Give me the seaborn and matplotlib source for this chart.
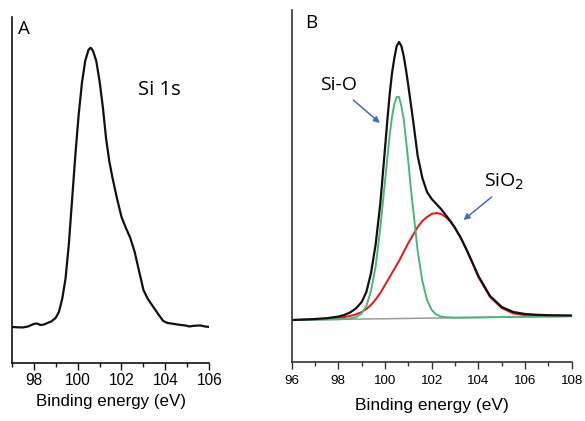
import matplotlib
matplotlib.use("Agg")
import matplotlib.pyplot as plt
from matplotlib.ticker import MultipleLocator
import pandas as pd
import seaborn as sns

# ---- Panel A: Si 1s survey spectrum ----
energy_a = [97.0, 97.25, 97.5, 97.75, 98.0, 98.15, 98.3, 98.45, 98.6, 98.8,
            99.0, 99.15, 99.3, 99.45, 99.6, 99.75, 99.9, 100.05, 100.2, 100.35,
            100.5, 100.6, 100.7, 100.85, 101.0, 101.15, 101.3, 101.45, 101.6, 101.8,
            102.0, 102.2, 102.4, 102.6, 102.8, 103.0, 103.2, 103.45, 103.7, 103.9,
            104.1, 104.4, 104.7, 104.9, 105.1, 105.3, 105.6, 105.8, 106.0]
intensity_a = [0.0, -0.3, -0.5, 0.5, 3.0, 3.5, 2.0, 2.3, 3.7, 5.5,
               9.0, 15.0, 28.0, 48.0, 82.0, 127.0, 172.0, 212.0, 244.0, 266.0,
               277.0, 279.0, 276.0, 266.0, 246.0, 220.0, 188.0, 165.0, 148.0, 128.0,
               110.0, 99.0, 89.0, 75.0, 56.0, 37.0, 28.0, 20.0, 12.0, 6.0,
               4.0, 3.0, 2.0, 1.5, 0.5, 1.2, 1.5, 0.5, 0.0]

# ---- Panel B: fitted envelope and components ----
energy_b = [96.0, 96.5, 97.0, 97.5, 98.0, 98.25, 98.5, 98.75, 99.0, 99.2,
            99.4, 99.6, 99.8, 100.0, 100.1, 100.2, 100.3, 100.4, 100.5, 100.6,
            100.7, 100.8, 100.9, 101.0, 101.1, 101.2, 101.4, 101.6, 101.8, 102.0,
            102.2, 102.4, 102.6, 102.8, 103.0, 103.25, 103.5, 103.75, 104.0, 104.5,
            105.0, 105.5, 106.0, 106.5, 107.0, 108.0]
envelope_b = [0.0, 0.4, 1.0, 1.8, 3.4, 5.0, 7.5, 11.5, 18.0, 28.0,
              47.0, 76.0, 117.0, 172.0, 200.0, 226.0, 247.0, 262.0, 274.0, 278.0,
              274.0, 264.0, 250.0, 234.0, 217.0, 200.0, 164.0, 142.0, 128.0, 121.0,
              116.0, 111.0, 105.0, 99.0, 92.0, 82.0, 70.0, 57.0, 44.0, 24.0,
              13.0, 8.0, 6.0, 5.2, 4.8, 4.5]
si_o_b = [0.0, 0.16, 0.32, 0.48, 0.74, 1.0, 1.5, 2.8, 6.5, 14.0,
          29.0, 54.0, 93.0, 139.0, 162.0, 185.0, 203.0, 216.0, 223.0, 223.0,
          214.0, 201.0, 180.0, 158.0, 133.0, 112.0, 69.0, 39.0, 20.0, 10.0,
          5.4, 3.5, 2.8, 2.6, 2.4, 2.4, 2.45, 2.5, 2.6, 2.75,
          2.9, 3.05, 3.2, 3.36, 3.52, 3.84]
sio2_b = [0.0, 0.3, 0.6, 1.2, 2.1, 3.0, 4.0, 5.6, 8.0, 11.0,
          15.0, 20.5, 27.0, 35.0, 39.0, 43.0, 47.0, 51.0, 55.0, 59.0,
          63.5, 68.0, 72.5, 77.0, 81.0, 85.0, 93.0, 99.0, 103.0, 106.0,
          107.0, 106.0, 103.0, 98.5, 92.0, 82.0, 70.0, 57.0, 43.0, 23.0,
          12.0, 6.5, 4.8, 4.0, 3.8, 3.9]
baseline_energy = [96.0, 108.0]
baseline_int = [0.0, 3.8]

df_a = pd.DataFrame({"energy": energy_a, "intensity": intensity_a})
df_b = pd.DataFrame({"energy": energy_b, "envelope": envelope_b,
                     "Si-O": si_o_b, "SiO2": sio2_b})
df_base = pd.DataFrame({"energy": baseline_energy, "intensity": baseline_int})

sns.set_style("ticks")
plt.rcParams["font.family"] = ["Liberation Sans", "DejaVu Sans"]
plt.rcParams["text.color"] = "black"
plt.rcParams["axes.labelcolor"] = "black"
plt.rcParams["xtick.labelcolor"] = "black"

W, H = 585, 421
fig = plt.figure(figsize=(W / 100, H / 100), dpi=100)


def frac(x0, y0, x1, y1):
    return [x0 / W, 1 - y1 / H, (x1 - x0) / W, (y1 - y0) / H]


ax_a = fig.add_axes(frac(11.7, 16.7, 209.3, 363))
ax_b = fig.add_axes(frac(291.7, 10, 571.7, 362))

# Panel A
sns.lineplot(data=df_a, x="energy", y="intensity", ax=ax_a, color="#111111",
             linewidth=1.6, sort=False)
ax_a.set_xlim(97, 106)
ax_a.set_ylim(-36, 310)

# Panel B
sns.lineplot(data=df_base, x="energy", y="intensity", ax=ax_b, color="#9a9a9a",
             linewidth=1.1)
sns.lineplot(data=df_b, x="energy", y="SiO2", ax=ax_b, color="#f01010",
             linewidth=1.4)
sns.lineplot(data=df_b, x="energy", y="Si-O", ax=ax_b, color="#46b879",
             linewidth=1.4)
sns.lineplot(data=df_b, x="energy", y="envelope", ax=ax_b, color="#111111",
             linewidth=1.6)
ax_b.set_xlim(96, 108)
ax_b.set_ylim(-42, 310)

panel_style = ((ax_a, 11.2, 12.2, 2.5, 4, "#111111"),
               (ax_b, 9.6, 12.5, 4.5, 8, "#333333"))
for ax, fs_tick, fs_lab, tpad, lpad, col in panel_style:
    sns.despine(ax=ax)
    ax.spines["left"].set_color(col)
    ax.spines["bottom"].set_color(col)
    ax.spines["left"].set_linewidth(1.2)
    ax.spines["bottom"].set_linewidth(1.2)
    ax.xaxis.set_major_locator(MultipleLocator(2))
    ax.xaxis.set_minor_locator(MultipleLocator(1))
    ax.tick_params(axis="x", which="major", direction="out", length=5,
                   width=1.0, labelsize=fs_tick, pad=tpad, color=col,
                   labelcolor="black")
    ax.tick_params(axis="x", which="minor", direction="out", length=3,
                   width=1.0, color=col)
    ax.set_yticks([])
    ax.set_ylabel("")
    ax.set_xlabel("Binding energy (eV)", fontsize=fs_lab, labelpad=lpad,
                  color="black")
    ax.patch.set_alpha(0)

ann_font = ["Open Sans", "DejaVu Sans"]
fig.text(18 / W, 1 - 34 / H, "A", fontsize=13.5, family=ann_font,
         ha="left", va="baseline", color="black")
fig.text(305 / W, 1 - 28 / H, "B", fontsize=13.5, family=ann_font,
         ha="left", va="baseline", color="black")

ax_a.text(102.75, 232, "Si 1s", fontsize=14.5, family=ann_font,
          ha="left", va="baseline", color="black")

arrow_kw = dict(arrowstyle="-|>", color="#4170b8", lw=1.1, mutation_scale=9,
                shrinkA=0, shrinkB=0)
ax_b.text(97.2, 230, "Si-O", fontsize=14, family=ann_font,
          ha="left", va="baseline", color="black")
ax_b.annotate("", xy=(99.78, 197), xytext=(98.64, 220), arrowprops=arrow_kw)
ax_b.text(104.25, 133, "SiO$_2$", fontsize=14, family=ann_font,
          ha="left", va="baseline", color="black")
ax_b.annotate("", xy=(103.36, 100), xytext=(104.57, 123), arrowprops=arrow_kw)

fig.savefig("out.png", dpi=100)
